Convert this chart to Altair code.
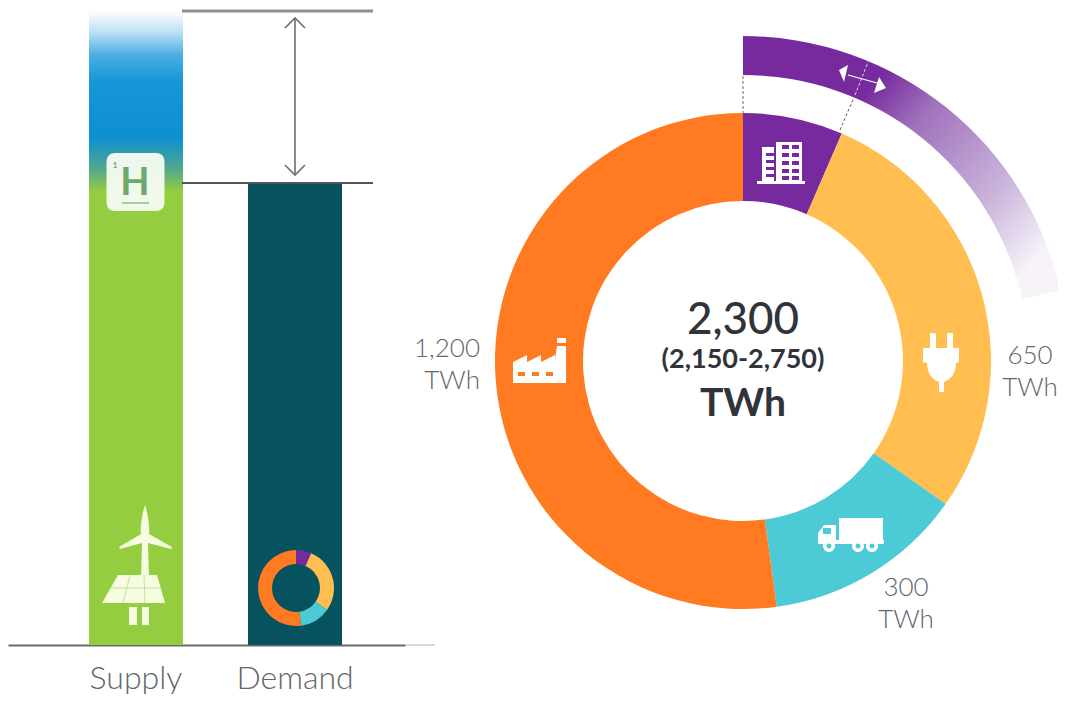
import altair as alt
import pandas as pd

# ---- data ----
bar_categories = ["Supply", "Demand"]
bar_values = [3156, 2300]
sectors = ["Buildings", "Power", "Transport", "Industry"]
sector_values = [150, 650, 300, 1200]
sector_colors = ["#772a9e", "#ffbe4f", "#4ccad6", "#ff7a21"]
band_start = [0]
band_end = [495]
center_lines = ["2,300", "(2,150-2,750)", "TWh"]
side_values = ["1,200", "650", "300"]
unit = "TWh"

FONT = "Lato"
DARK = "#30343a"
GREY = "#62666c"
anchor = pd.DataFrame({"a": [0]})


def X(v):
    return alt.value(v - 8)


def Y(v):
    return alt.value(v - 8)


def icon(path, cx, cy, color, opacity=1.0):
    return alt.Chart(anchor).mark_point(
        shape=path, size=4, filled=True, color=color, opacity=opacity, strokeWidth=0
    ).encode(x=X(cx), y=Y(cy))


def outline(path, cx, cy, color, width):
    return alt.Chart(anchor).mark_point(
        shape=path, size=4, filled=False, color=color, opacity=1, strokeWidth=width
    ).encode(x=X(cx), y=Y(cy))


def segment(x1, y1, x2, y2, color, width, dash=None):
    kw = {"strokeDash": dash} if dash else {}
    return alt.Chart(anchor).mark_rule(color=color, strokeWidth=width, **kw).encode(
        x=X(x1), y=Y(y1), x2=X(x2), y2=Y(y2)
    )


def label(text, x, y, size, weight, color, align="center"):
    return alt.Chart(anchor).mark_text(
        text=text, font=FONT, fontSize=size, fontWeight=weight, color=color,
        align=align, baseline="alphabetic",
    ).encode(x=X(x), y=Y(y))


def rect(x1, y1, x2, y2):
    return f"M{x1},{y1} H{x2} V{y2} H{x1} Z "


def hole(x1, y1, x2, y2):
    return f"M{x1},{y1} V{y2} H{x2} V{y1} Z "


def circle(cx, cy, r, sweep=1):
    return f"M{cx - r},{cy} A{r},{r} 0 1 {sweep} {cx + r},{cy} A{r},{r} 0 1 {sweep} {cx - r},{cy} Z "


# ---- bars ----
bars = pd.DataFrame({"category": bar_categories, "value": bar_values})
x_enc = alt.X(
    "category:N",
    sort=bar_categories,
    scale=alt.Scale(domain=bar_categories, range=[0, 397], paddingInner=0.4088, paddingOuter=0.4528, align=0.5625),
    axis=alt.Axis(
        title=None, labelAngle=0, labelFont=FONT, labelFontSize=32, labelFontWeight=300,
        labelColor=GREY, ticks=False, grid=False, domainColor="#6a6a6a", domainWidth=2,
        labelPadding=18,
    ),
)
y_enc = alt.Y("value:Q", scale=alt.Scale(domain=[0, 3171], nice=False), axis=None)

supply_fill = alt.Gradient(
    gradient="linear", x1=0, x2=0, y1=0, y2=1,
    stops=[
        alt.GradientStop(offset=0.0, color="#ffffff"),
        alt.GradientStop(offset=0.03, color="#c4e4f6"),
        alt.GradientStop(offset=0.07, color="#4aaee2"),
        alt.GradientStop(offset=0.11, color="#1796d8"),
        alt.GradientStop(offset=0.2, color="#0e8fd2"),
        alt.GradientStop(offset=0.25, color="#52a88c"),
        alt.GradientStop(offset=0.285, color="#95cd41"),
        alt.GradientStop(offset=1.0, color="#95cd41"),
    ],
)
supply_bar = alt.Chart(bars[bars.category == "Supply"]).mark_bar(fill=supply_fill).encode(x=x_enc, y=y_enc)
demand_bar = alt.Chart(bars[bars.category == "Demand"]).mark_bar(color="#06535f").encode(x=x_enc, y=y_enc)

# ---- rings ----
ring = pd.DataFrame({"sector": sectors, "value": sector_values, "rank": list(range(len(sectors)))})
theta_scale = alt.Scale(domain=[0, sum(sector_values)])
color_enc = alt.Color("sector:N", scale=alt.Scale(domain=sectors, range=sector_colors), legend=None)


def donut(cx, cy, r_out, r_in):
    return alt.Chart(ring).mark_arc(radius=r_out, radius2=r_in, stroke=None).encode(
        theta=alt.Theta("value:Q", stack=True, scale=theta_scale),
        color=color_enc,
        order=alt.Order("rank:Q"),
        x=X(cx),
        y=Y(cy),
    )


main_ring = donut(743, 361, 248, 160)
mini_ring = donut(296, 588, 38, 24)

band_fill = alt.Gradient(
    gradient="linear", x1=0, y1=0, x2=1, y2=0.75,
    stops=[
        alt.GradientStop(offset=0.0, color="#772a9e"),
        alt.GradientStop(offset=0.35, color="#772a9e"),
        alt.GradientStop(offset=0.51, color="#a072bc"),
        alt.GradientStop(offset=0.8, color="#cbb5dc"),
        alt.GradientStop(offset=1.0, color="#f7f3f9"),
    ],
)
band = alt.Chart(pd.DataFrame({"start": band_start, "end": band_end})).mark_arc(
    radius=325, radius2=286, fill=band_fill
).encode(
    theta=alt.Theta("start:Q", scale=theta_scale),
    theta2=alt.Theta2("end:Q"),
    x=X(743),
    y=Y(361),
)

# ---- icons ----
factory = (
    "M-27,22 V1 L-13,-6 V1 L1,-6 V1 L15,-6 V-2 L17,-15 H26 V22 Z "
    + rect(17, -23, 26, -18)
    + hole(-22, 11, -15, 15) + hole(-8, 11, -1, 15) + hole(6, 11, 13, 15)
)
tower_windows = "".join(
    hole(1, y, 8, y + 4) + hole(11, y, 18, y + 4) for y in [-18, -10, -2, 6, 13 - 0]
)
buildings = (
    rect(-24, 18, 24, 21) + rect(-5, -21, 21, 18) + tower_windows
    + rect(-19, -16, -7, 18)
    + "".join(hole(-15, y, -7, y + 3) for y in [-10, -3, 4, 11])
)
plug = (
    rect(-11, -29, -5, -14) + rect(6, -29, 12, -14)
    + "M-18,-14 H18 V0 L15,1 C15,12 9,18 3,20 V30 H-2 V20 C-8,18 -14,12 -14,1 L-18,0 Z"
)
truck = (
    rect(-11, -17, 33, 5) + rect(-14, 5, 34, 9)
    + "M-32,9 V-2 L-26,-10 H-14 V9 Z " + hole(-27, -7, -19, -1)
)
wheels = circle(-21, 11, 6) + circle(8, 11, 6) + circle(22, 11, 6)
wheel_holes = circle(-21, 11, 2.5) + circle(8, 11, 2.5) + circle(22, 11, 2.5)

turbine = (
    "M0,-33 C3,-24 5,-10 4,-4 L27,9 L26,11 L3,5 L4,40 H-4 L-3,5 L-25,11 L-26,9 L-4,-4 C-5,-10 -3,-24 0,-33 Z"
)
panel = "M-27,37 H12 L20,65 H-43 Z"
panel_lines = "M-15,37 L-22,65 M-1,37 L0,65 M-35,50 H16"
legs = rect(-16, 69, -8, 87) + rect(-3, 69, 4, 87)

tile = "M-20,-29 H20 Q29,-29 29,-20 V20 Q29,29 20,29 H-20 Q-29,29 -29,20 V-20 Q-29,-29 -20,-29 Z"
arrowheads = "M0,0 L9,-5 L5,12 Z M47,18 L40,7 L35,23 Z"

layers = [
    band,
    segment(743, 76, 743, 113, "#6a6a6a", 1, [3, 2]),
    segment(840, 130, 855, 95, "#6a5a8a", 1, [3, 2]),
    segment(855, 95, 868, 62, "#e6d8ee", 1, [3, 2]),
    segment(848, 75, 877, 83, "#ffffff", 1.2),
    icon(arrowheads, 839, 70, "#ffffff"),
    main_ring,
    supply_bar,
    demand_bar,
    mini_ring,
    segment(405, 645, 435, 645, "#b4b4b4", 1),
    segment(182, 11, 373, 11, "#8f8f8f", 3),
    segment(182, 183, 373, 183, "#505558", 2),
    segment(295, 18, 295, 175, "#6e6e6e", 1.6),
    outline("M-10,10 L0,0 L10,10", 295, 18, "#6e6e6e", 1.6),
    outline("M-10,-10 L0,0 L10,-10", 295, 175, "#6e6e6e", 1.6),
    icon(tile, 135.5, 182, "#f4faf0", 0.97),
    label("H", 135, 195, 38, 700, "#6ea86e"),
    label("1", 115, 168, 8, 700, "#6ea86e"),
    segment(122, 203, 149, 203, "#8fbf80", 1.5),
    icon(turbine, 145, 538, "#f6fcdf"),
    icon(panel, 145, 538, "#f6fcdf"),
    outline(panel_lines, 145, 538, "#b9d98a", 0.8),
    icon(legs, 145, 538, "#f6fcdf"),
    icon(factory, 540, 361, "#ffffff"),
    icon(buildings, 781, 163, "#ffffff"),
    icon(plug, 941, 362, "#ffffff"),
    icon(truck, 850, 535, "#ffffff"),
    icon(wheels, 850, 535, "#ffffff"),
    icon(wheel_holes, 850, 535, "#4ccad6"),
    label(center_lines[0], 743, 334, 44, 500, DARK),
    label(center_lines[1], 743, 368, 27, 700, DARK),
    label(center_lines[2], 743, 416, 39, 700, DARK),
    label(side_values[0], 480, 357, 26, 300, GREY, "right"),
    label(unit, 480, 389, 26, 300, GREY, "right"),
    label(side_values[1], 1030, 364, 26, 300, GREY),
    label(unit, 1030, 396, 26, 300, GREY),
    label(side_values[2], 906, 596, 26, 300, GREY),
    label(unit, 906, 628, 26, 300, GREY),
]

chart = (
    alt.layer(*layers)
    .properties(
        width=1050, height=637,
        padding={"left": 0, "top": 0, "right": -3, "bottom": 0},
        background="white",
    )
    .configure_view(stroke=None)
)

chart.save("out.html", embed_options={"renderer": "svg", "actions": False})
